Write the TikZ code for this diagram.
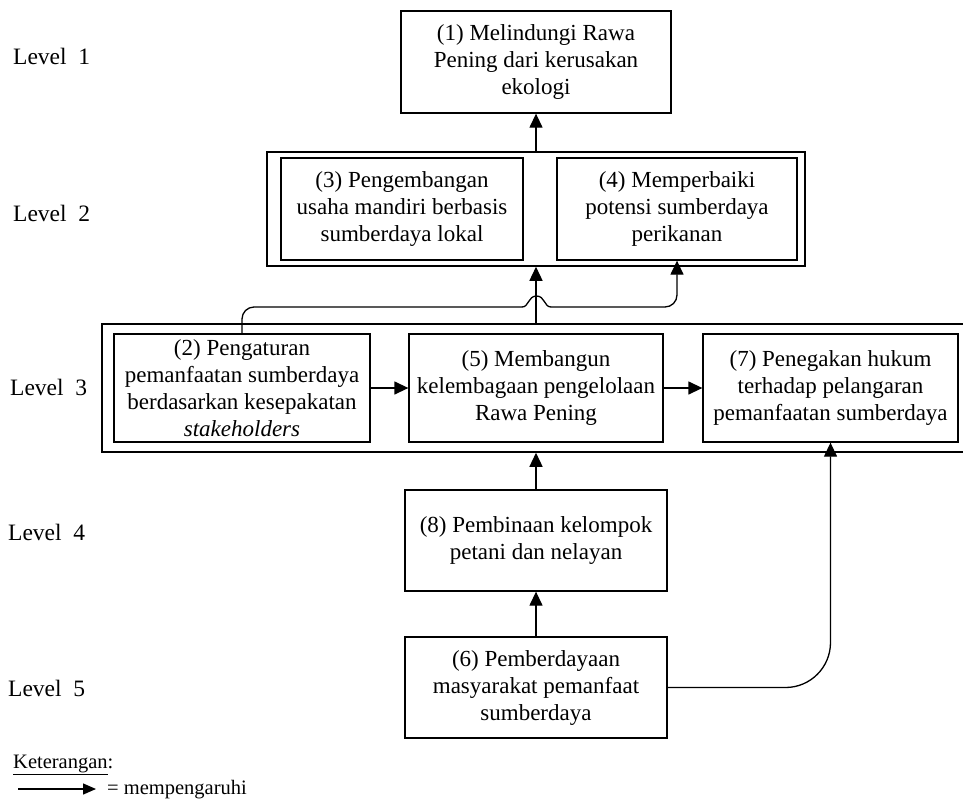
\documentclass[tikz,border=0pt]{standalone}
\usepackage{fontspec}
\setmainfont{Liberation Serif}
\usetikzlibrary{arrows.meta}
\begin{document}
\begin{tikzpicture}[x=1pt,y=-1pt,
  box/.style={draw, line width=1.3pt, align=center, inner sep=0pt, font=\fontsize{23}{27}\selectfont},
  frame/.style={draw, line width=1.5pt, inner sep=0pt},
  lvl/.style={anchor=base west, inner sep=0pt, font=\fontsize{23.5}{27}\selectfont},
  legend/.style={anchor=base west, inner sep=0pt, font=\fontsize{20.5}{24}\selectfont},
  arr/.style={line width=1.3pt, -{Triangle[length=14pt,width=13pt]}},
  con/.style={line width=1.3pt}]
\useasboundingbox (0,0) rectangle (963,803);
\clip (0,0) rectangle (963,803);

% level labels
\node[lvl] (l1) at (13,64) {Level~~1};
\node[lvl] (l2) at (13,221) {Level~~2};
\node[lvl] (l3) at (10,395) {Level~~3};
\node[lvl] (l4) at (8,540) {Level~~4};
\node[lvl] (l5) at (8,696) {Level~~5};

% boxes
\node[box, minimum width=270pt, minimum height=102pt] (b1) at (536,62) {(1) Melindungi Rawa\\Pening dari kerusakan\\ekologi};
\node[frame, minimum width=538pt, minimum height=114pt] (L2) at (536,209) {};
\node[box, minimum width=242pt, minimum height=102pt] (b3) at (402,209) {(3) Pengembangan\\usaha mandiri berbasis\\sumberdaya lokal};
\node[box, minimum width=240pt, minimum height=102pt] (b4) at (677,209) {(4) Memperbaiki\\potensi sumberdaya\\perikanan};
\node[frame, minimum width=868pt, minimum height=128pt] (L3) at (536,388) {};
\node[box, minimum width=256pt, minimum height=108pt] (b2) at (242,388) {(2) Pengaturan\\pemanfaatan sumberdaya\\berdasarkan kesepakatan\\\textit{stakeholders}};
\node[box, minimum width=254pt, minimum height=108pt] (b5) at (536,388) {(5) Membangun\\kelembagaan pengelolaan\\Rawa Pening};
\node[box, minimum width=255pt, minimum height=108pt] (b7) at (830.5,388) {(7) Penegakan hukum\\terhadap pelangaran\\pemanfaatan sumberdaya};
\node[box, minimum width=262pt, minimum height=101pt] (b8) at (536,540.5) {(8) Pembinaan kelompok\\petani dan nelayan};
\node[box, minimum width=262pt, minimum height=101pt] (b6) at (536,687.5) {(6) Pemberdayaan\\masyarakat pemanfaat\\sumberdaya};

% connectors
\draw[arr] (L2.north) -- (b1.south);
\draw[arr] (L3.north) -- (L2.south);
\coordinate (jl) at (522,307);
\coordinate (jr) at (551,307);
\draw[con, rounded corners=12pt] (b2.north) |- (jl);
\draw[con] (jl) .. controls (529,307) and (528,296) .. (536.5,296) .. controls (545,296) and (544,307) .. (jr);
\draw[arr, rounded corners=12pt] (jr) -| (b4.south);
\draw[arr] (b2.east) -- (b5.west);
\draw[arr] (b5.east) -- (b7.west);
\draw[arr] (b8.north) -- (L3.south);
\draw[arr] (b6.north) -- (b8.south);
\draw[arr, rounded corners=45pt] (b6.east) -| (b7.south);

% legend
\node[legend] (ket) at (13,768) {\underline{Keterangan}:};
\coordinate (la) at (18,789);
\coordinate (lb) at (96,789);
\draw[con, -{Triangle[length=13pt,width=11pt]}] (la) -- (lb);
\node[legend] (mp) at (107,794) {= mempengaruhi};
\end{tikzpicture}
\end{document}
